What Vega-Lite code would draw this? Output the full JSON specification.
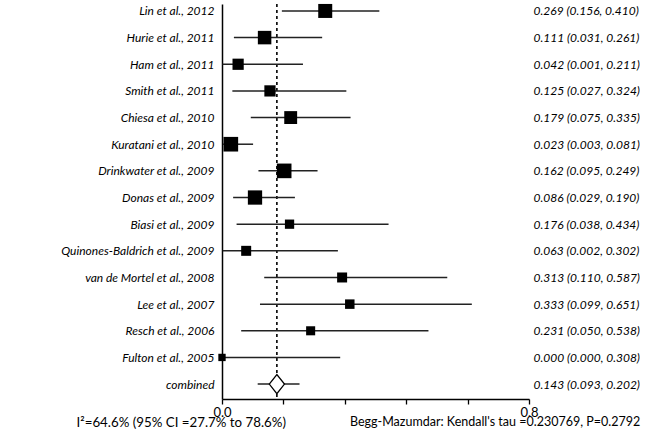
{
  "$schema": "https://vega.github.io/schema/vega-lite/v6.json",
  "autosize": {"type": "none"},
  "padding": {"left": 222, "top": 4, "right": 129, "bottom": 44},
  "width": 307,
  "height": 395,
  "background": "white",
  "config": {
    "view": {"stroke": null},
    "font": "Lato",
    "axis": {"grid": false}
  },
  "title": {
    "text": "Begg-Mazumdar: Kendall's tau =0.230769, P=0.2792",
    "orient": "bottom",
    "anchor": "start",
    "frame": "group",
    "dx": 128,
    "offset": -12,
    "font": "Lato",
    "fontSize": 12.5,
    "fontWeight": "normal",
    "color": "#000"
  },
  "data": {
    "values": [
      {"study": "Lin et al., 2012", "est": 0.269, "lo": 0.156, "hi": 0.410, "weight": 9.8, "label": "0.269 (0.156, 0.410)", "type": "study"},
      {"study": "Hurie et al., 2011", "est": 0.111, "lo": 0.031, "hi": 0.261, "weight": 9.1, "label": "0.111 (0.031, 0.261)", "type": "study"},
      {"study": "Ham et al., 2011", "est": 0.042, "lo": 0.001, "hi": 0.211, "weight": 6.3, "label": "0.042 (0.001, 0.211)", "type": "study"},
      {"study": "Smith et al., 2011", "est": 0.125, "lo": 0.027, "hi": 0.324, "weight": 6.3, "label": "0.125 (0.027, 0.324)", "type": "study"},
      {"study": "Chiesa et al., 2010", "est": 0.179, "lo": 0.075, "hi": 0.335, "weight": 8.3, "label": "0.179 (0.075, 0.335)", "type": "study"},
      {"study": "Kuratani et al., 2010", "est": 0.023, "lo": 0.003, "hi": 0.081, "weight": 10.7, "label": "0.023 (0.003, 0.081)", "type": "study"},
      {"study": "Drinkwater et al., 2009", "est": 0.162, "lo": 0.095, "hi": 0.249, "weight": 10.7, "label": "0.162 (0.095, 0.249)", "type": "study"},
      {"study": "Donas et al., 2009", "est": 0.086, "lo": 0.029, "hi": 0.190, "weight": 10.2, "label": "0.086 (0.029, 0.190)", "type": "study"},
      {"study": "Biasi et al., 2009", "est": 0.176, "lo": 0.038, "hi": 0.434, "weight": 4.3, "label": "0.176 (0.038, 0.434)", "type": "study"},
      {"study": "Quinones-Baldrich et al., 2009", "est": 0.063, "lo": 0.002, "hi": 0.302, "weight": 5.0, "label": "0.063 (0.002, 0.302)", "type": "study"},
      {"study": "van de Mortel et al., 2008", "est": 0.313, "lo": 0.110, "hi": 0.587, "weight": 5.0, "label": "0.313 (0.110, 0.587)", "type": "study"},
      {"study": "Lee et al., 2007", "est": 0.333, "lo": 0.099, "hi": 0.651, "weight": 4.5, "label": "0.333 (0.099, 0.651)", "type": "study"},
      {"study": "Resch et al., 2006", "est": 0.231, "lo": 0.050, "hi": 0.538, "weight": 4.1, "label": "0.231 (0.050, 0.538)", "type": "study"},
      {"study": "Fulton et al., 2005", "est": 0.000, "lo": 0.000, "hi": 0.308, "weight": 2.7, "label": "0.000 (0.000, 0.308)", "type": "study"},
      {"study": "combined", "est": 0.143, "lo": 0.093, "hi": 0.202, "weight": 0, "label": "0.143 (0.093, 0.202)", "type": "combined"}
    ]
  },
  "layer": [
    {
      "layer": [
        {
          "transform": [{"filter": "datum.type === 'combined'"}],
          "mark": {"type": "rule", "strokeDash": [3, 3], "strokeWidth": 1.6, "color": "#000"},
          "encoding": {
            "x": {
              "field": "est", "type": "quantitative",
              "scale": {"domain": [0, 0.8], "nice": false, "zero": false},
              "axis": {
                "orient": "bottom",
                "values": [0, 0.04, 0.08, 0.12, 0.16, 0.2, 0.24, 0.28, 0.32, 0.36, 0.4, 0.44, 0.48, 0.52, 0.56, 0.6, 0.64, 0.68, 0.72, 0.76, 0.8],
                "labelExpr": "abs(datum.value * 5 - round(datum.value * 5)) < 0.001 ? format(datum.value, '.1f') : ''",
                "labelOverlap": false, "labelFlush": false, "labelBound": false,
                "tickSize": 5, "tickColor": "#000", "tickWidth": 1.3, "domainColor": "#000", "domainWidth": 1.5,
                "labelFontSize": 13, "labelColor": "#000", "labelPadding": 2, "labelFont": "Lato",
                "title": "I²=64.6% (95% CI =27.7% to 78.6%)",
                "titleFont": "Lato", "titleFontSize": 13.3, "titleFontWeight": "normal", "titleColor": "#000",
                "titleAnchor": "start", "titleAlign": "left", "titleBaseline": "middle", "titleX": -146, "titleY": 23
              }
            }
          }
        },
        {
          "mark": {"type": "rule", "strokeWidth": 1.5, "color": "#222"},
          "encoding": {
            "y": {
              "field": "study", "type": "nominal", "sort": null,
              "scale": {"type": "point", "padding": 0.41, "align": 0.318},
              "axis": {
                "title": null, "ticks": false, "labelPadding": 8, "domainColor": "#000", "domainWidth": 1.5,
                "labelFont": "Lato", "labelFontStyle": "italic", "labelFontSize": 12, "labelColor": "#000", "labelLimit": 300
              }
            },
            "x": {"field": "lo", "type": "quantitative"},
            "x2": {"field": "hi"}
          }
        },
        {
          "transform": [{"filter": "datum.type === 'study'"}],
          "mark": {"type": "point", "shape": "square", "filled": true, "color": "#000", "opacity": 1},
          "encoding": {
            "y": {"field": "study", "type": "nominal", "sort": null},
            "x": {"field": "est", "type": "quantitative"},
            "size": {"field": "weight", "type": "quantitative", "scale": {"type": "linear", "domain": [0, 10], "range": [0, 200], "zero": true}, "legend": null}
          }
        },
        {
          "transform": [{"filter": "datum.type === 'combined'"}],
          "mark": {"type": "point", "shape": "M-0.8,0L0,-1L0.8,0L0,1Z", "filled": true, "fill": "white", "stroke": "#000", "strokeWidth": 1.3, "opacity": 1, "size": 361},
          "encoding": {
            "y": {"field": "study", "type": "nominal", "sort": null},
            "x": {"field": "est", "type": "quantitative"}
          }
        }
      ]
    },
    {
      "mark": {"type": "point", "opacity": 0},
      "encoding": {
        "y": {
          "field": "label", "type": "nominal", "sort": null,
          "scale": {"type": "point", "padding": 0.41, "align": 0.318},
          "axis": {
            "orient": "right", "title": null, "ticks": false, "domain": false, "labelPadding": 4,
            "labelFont": "Lato", "labelFontStyle": "italic", "labelFontSize": 12, "labelColor": "#000", "labelLimit": 300
          }
        },
        "x": {"field": "est", "type": "quantitative", "axis": null}
      }
    }
  ],
  "resolve": {"scale": {"y": "independent"}, "axis": {"y": "independent", "x": "independent"}}
}
